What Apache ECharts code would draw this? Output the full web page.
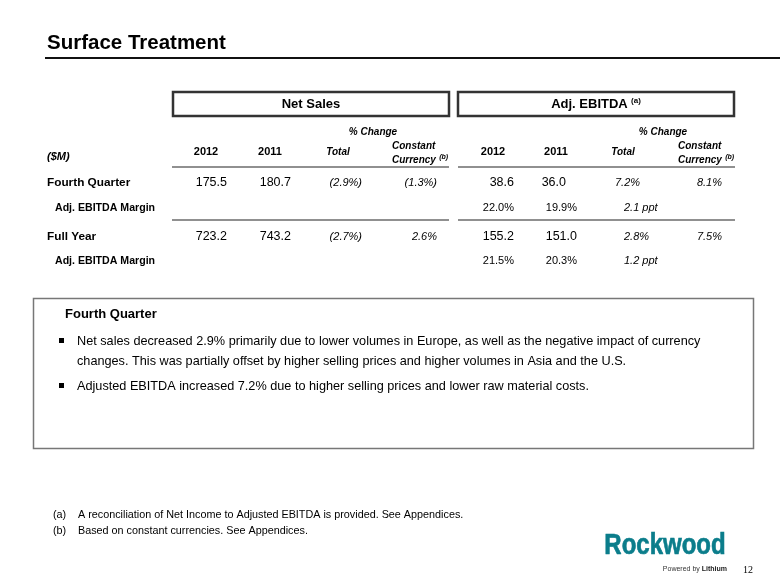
<!DOCTYPE html>
<html>
<head>
<meta charset="utf-8">
<script src="https://cdn.jsdelivr.net/npm/echarts@6/dist/echarts.min.js"></script>
<style>
html,body{margin:0;padding:0;background:#fff;}
#chart{width:780px;height:585px;}
</style>
</head>
<body>
<div id="chart"></div>
<script>
// ---- Data ----
const title = 'Surface Treatment';
const groupTitles = ['Net Sales', 'Adj. EBITDA'];
const colHeaders = ['2012', '2011', 'Total'];
const rowLabels = ['Fourth Quarter', 'Adj. EBITDA Margin', 'Full Year', 'Adj. EBITDA Margin'];
const netSales2012 = ['175.5', '', '723.2', ''];
const netSales2011 = ['180.7', '', '743.2', ''];
const netSalesTotal = ['(2.9%)', '', '(2.7%)', ''];
const netSalesConst = ['(1.3%)', '', '2.6%', ''];
const ebitda2012 = ['38.6', '22.0%', '155.2', '21.5%'];
const ebitda2011 = ['36.0', '19.9%', '151.0', '20.3%'];
const ebitdaTotal = ['7.2%', '2.1 ppt', '2.8%', '1.2 ppt'];
const ebitdaConst = ['8.1%', '', '7.5%', ''];
const commentaryTitle = 'Fourth Quarter';
const bullets = [
  ['Net sales decreased 2.9% primarily due to lower volumes in Europe, as well as the negative impact of currency',
   'changes. This was partially offset by higher selling prices and higher volumes in Asia and the U.S.'],
  ['Adjusted EBITDA increased 7.2% due to higher selling prices and lower raw material costs.']
];
const footnotes = [
  ['(a)', 'A reconciliation of Net Income to Adjusted EBITDA is provided. See Appendices.'],
  ['(b)', 'Based on constant currencies. See Appendices.']
];
const pageNumber = '12';

// ---- Layout ----
const FONT = 'Liberation Sans, Arial, sans-serif';
const rowY = [183, 208, 237, 261];
const isMainRow = [true, false, true, false];
const g = [];

function txt(text, x, y, opt) {
  opt = opt || {};
  const el = {
    type: 'text', silent: true,
    style: Object.assign({
      text: text, x: x, y: y,
      font: (opt.style || '') + ' ' + (opt.weight || 'normal') + ' ' + (opt.size || 12) + 'px ' + FONT,
      fill: opt.fill || '#000',
      align: opt.align || 'left',
      verticalAlign: opt.va || 'middle'
    }, opt.extra || {})
  };
  if (opt.el) Object.assign(el, opt.el);
  g.push(el);
}
function line(x1, y1, x2, y2, w, c) {
  g.push({type: 'line', silent: true, shape: {x1: x1, y1: y1, x2: x2, y2: y2},
    style: {stroke: c || '#000', lineWidth: w || 1}});
}
function rect(x, y, w, h, lw, c) {
  g.push({type: 'rect', silent: true, shape: {x: x, y: y, width: w, height: h},
    style: {fill: 'none', stroke: c || '#000', lineWidth: lw || 1}});
}

// Title
txt(title, 47, 43, {weight: 'bold', size: 20.5});
line(45, 58, 780, 58, 2, '#111');

// Group header boxes
rect(173, 92, 276, 24, 2.5, '#333');
rect(458, 92, 276, 24, 2.5, '#333');
txt(groupTitles[0], 311, 104, {weight: 'bold', size: 13, align: 'center'});
g.push({type: 'text', silent: true, style: {
  text: '{m|' + groupTitles[1] + '} {s|(a)}', x: 596, y: 104, align: 'center', verticalAlign: 'middle',
  rich: {
    m: {font: 'bold 13px ' + FONT, fill: '#000'},
    s: {font: 'bold 8px ' + FONT, fill: '#000', padding: [0, 0, 7, 0]}
  }
}});

// Column headers
const colSets = [
  {c2012: 206, c2011: 270, total: 338, constX: 392, change: 373},
  {c2012: 493, c2011: 556, total: 623, constX: 678, change: 663}
];
colSets.forEach(function (s) {
  txt('% Change', s.change, 132, {style: 'italic', weight: 'bold', size: 10, align: 'center'});
  txt(colHeaders[0], s.c2012, 152, {weight: 'bold', size: 11, align: 'center'});
  txt(colHeaders[1], s.c2011, 152, {weight: 'bold', size: 11, align: 'center'});
  txt(colHeaders[2], s.total, 152, {style: 'italic', weight: 'bold', size: 10, align: 'center'});
  txt('Constant', s.constX, 146, {style: 'italic', weight: 'bold', size: 10});
  g.push({type: 'text', silent: true, style: {
    text: '{m|Currency} {s|(b)}', x: s.constX, y: 160, align: 'left', verticalAlign: 'middle',
    rich: {
      m: {font: 'italic bold 10px ' + FONT, fill: '#000'},
      s: {font: 'italic bold 7px ' + FONT, fill: '#000', padding: [0, 0, 5, 0]}
    }
  }});
});
txt('($M)', 47, 157, {style: 'italic', weight: 'bold', size: 11});
line(172, 167, 449, 167, 1.2, '#222');
line(458, 167, 735, 167, 1.2, '#222');
line(172, 220, 449, 220, 1.2, '#222');
line(458, 220, 735, 220, 1.2, '#222');

// Rows
const ebTotalX = [615, 624, 624, 624];
const eb2011R = [566, 577, 577, 577];
rowLabels.forEach(function (lab, i) {
  const main = isMainRow[i];
  const y = rowY[i];
  txt(lab, main ? 47 : 55, y, {weight: 'bold', size: main ? 11.8 : 10.6});
  const vs = main ? 12.5 : 11;
  if (netSales2012[i]) txt(netSales2012[i], 227, y, {size: vs, align: 'right'});
  if (netSales2011[i]) txt(netSales2011[i], 291, y, {size: vs, align: 'right'});
  if (netSalesTotal[i]) txt(netSalesTotal[i], 362, y, {size: 11, style: 'italic', align: 'right'});
  if (netSalesConst[i]) txt(netSalesConst[i], 437, y, {size: 11, style: 'italic', align: 'right'});
  if (ebitda2012[i]) txt(ebitda2012[i], 514, y, {size: vs, align: 'right'});
  if (ebitda2011[i]) txt(ebitda2011[i], eb2011R[i], y, {size: vs, align: 'right'});
  if (ebitdaTotal[i]) txt(ebitdaTotal[i], ebTotalX[i], y, {size: 11, style: 'italic', align: 'left'});
  if (ebitdaConst[i]) txt(ebitdaConst[i], 722, y, {size: 11, style: 'italic', align: 'right'});
});

// Commentary box
rect(33.5, 298.5, 720, 150, 1.5, '#777');
txt(commentaryTitle, 65, 314, {weight: 'bold', size: 13});
let by = 341;
bullets.forEach(function (b) {
  g.push({type: 'rect', silent: true, shape: {x: 59, y: by - 3, width: 5, height: 5}, style: {fill: '#000'}});
  b.forEach(function (ln) {
    txt(ln, 77, by, {size: 12.7});
    by += 20;
  });
  by += 5;
});

// Footnotes
footnotes.forEach(function (f, i) {
  const y = 515 + i * 16;
  txt(f[0], 53, y, {size: 10.8});
  txt(f[1], 78, y, {size: 10.8});
});

// Logo
txt('Rockwood', 0, 0, {weight: 'bold', size: 30, align: 'center', fill: '#0b7d8b',
  extra: {stroke: '#0b7d8b', lineWidth: 0.7},
  el: {x: 665, y: 546, scaleX: 0.8}});
g.push({type: 'text', silent: true, style: {
  text: '{a|Powered by }{b|Lithium}', x: 727, y: 569, align: 'right', verticalAlign: 'middle',
  rich: {
    a: {font: 'normal 7px ' + FONT, fill: '#333'},
    b: {font: 'bold 7px ' + FONT, fill: '#222'}
  }
}});
txt(pageNumber, 743, 570, {size: 10, extra: {font: 'normal 10px "Liberation Serif", serif'}});

const chart = echarts.init(document.getElementById('chart'), null, {renderer: 'canvas'});
chart.setOption({
  backgroundColor: '#fff',
  animation: false,
  graphic: {elements: g}
});
</script>
</body>
</html>
